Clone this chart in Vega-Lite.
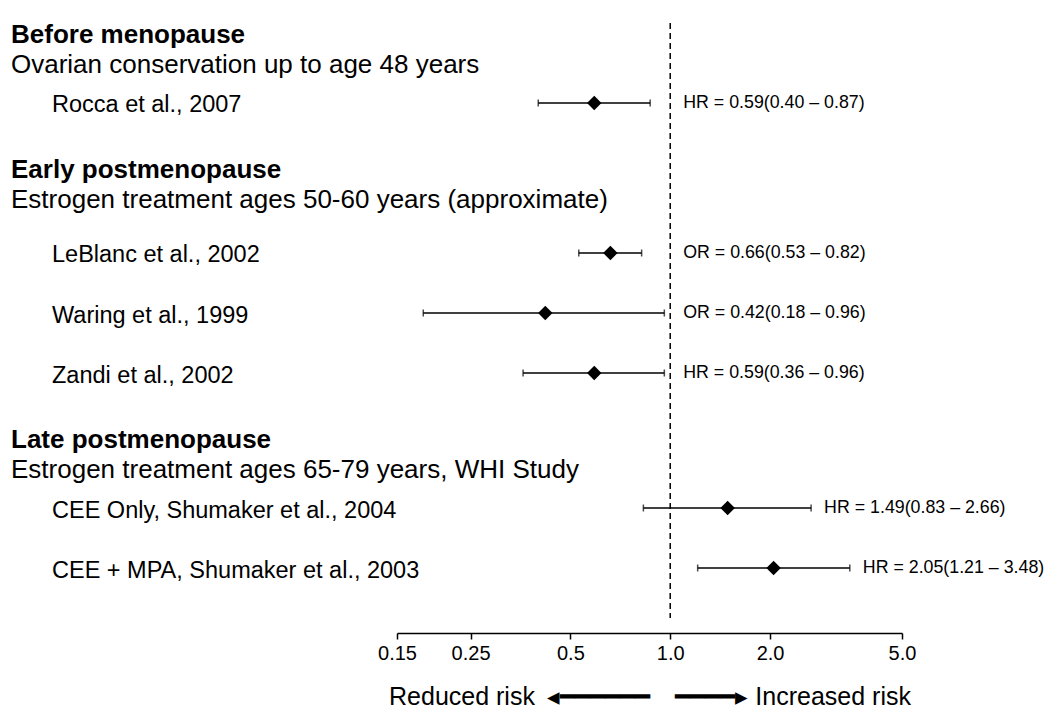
{
  "$schema": "https://vega.github.io/schema/vega-lite/v6.json",
  "width": 505,
  "height": 595,
  "autosize": {"type": "none"},
  "padding": {"left": 397, "top": 23, "right": 148, "bottom": 107},
  "background": "white",
  "config": {"view": {"stroke": null}, "font": "Liberation Sans"},
  "data": {
    "values": [
      {"label": "Before menopause", "role": "heading"},
      {"label": "Ovarian conservation up to age 48 years", "role": "subheading"},
      {"label": "Rocca et al., 2007", "role": "study", "measure": "HR", "est": 0.59, "lo": 0.40, "hi": 0.87},
      {"label": "Early postmenopause", "role": "heading"},
      {"label": "Estrogen treatment ages 50-60 years (approximate)", "role": "subheading"},
      {"label": "LeBlanc et al., 2002", "role": "study", "measure": "OR", "est": 0.66, "lo": 0.53, "hi": 0.82},
      {"label": "Waring et al., 1999", "role": "study", "measure": "OR", "est": 0.42, "lo": 0.18, "hi": 0.96},
      {"label": "Zandi et al., 2002", "role": "study", "measure": "HR", "est": 0.59, "lo": 0.36, "hi": 0.96},
      {"label": "Late postmenopause", "role": "heading"},
      {"label": "Estrogen treatment ages 65-79 years, WHI Study", "role": "subheading"},
      {"label": "CEE Only, Shumaker et al., 2004", "role": "study", "measure": "HR", "est": 1.49, "lo": 0.83, "hi": 2.66},
      {"label": "CEE + MPA, Shumaker et al., 2003", "role": "study", "measure": "HR", "est": 2.05, "lo": 1.21, "hi": 3.48}
    ]
  },
  "layer": [
    {
      "encoding": {
        "y": {
          "field": "label", "type": "nominal", "axis": null,
          "scale": {"type": "point", "padding": 0.3333, "domain": ["_a","Before menopause","_b","Ovarian conservation up to age 48 years","_c","Rocca et al., 2007","_d","_e","_f","_g","Early postmenopause","_h","Estrogen treatment ages 50-60 years (approximate)","_i","_j","LeBlanc et al., 2002","_k","_l","_m","Waring et al., 1999","_n","_o","_p","Zandi et al., 2002","_q","_r","_s","_t","Late postmenopause","_u","Estrogen treatment ages 65-79 years, WHI Study","_v","CEE Only, Shumaker et al., 2004","_w","_x","_y","CEE + MPA, Shumaker et al., 2003","_z","_z1","_z2"]}
        },
        "text": {"field": "label"}
      },
      "layer": [
        {
          "transform": [{"filter": "datum.role == 'heading'"}],
          "mark": {"type": "text", "align": "left", "baseline": "alphabetic", "fontSize": 26, "fontWeight": "bold", "color": "black"},
          "encoding": {"x": {"datum": "group", "type": "nominal", "axis": null, "scale": {"type": "point", "domain": ["group", "study"], "range": [-386, -345], "padding": 0}}}
        },
        {
          "transform": [{"filter": "datum.role == 'subheading'"}],
          "mark": {"type": "text", "align": "left", "baseline": "alphabetic", "fontSize": 26, "color": "black"},
          "encoding": {"x": {"datum": "group", "type": "nominal", "axis": null, "scale": {"type": "point", "domain": ["group", "study"], "range": [-386, -345], "padding": 0}}}
        },
        {
          "transform": [{"filter": "datum.role == 'study'"}],
          "mark": {"type": "text", "align": "left", "baseline": "middle", "dy": 2.5, "fontSize": 23.5, "color": "black"},
          "encoding": {"x": {"datum": "study", "type": "nominal", "axis": null, "scale": {"type": "point", "domain": ["group", "study"], "range": [-386, -345], "padding": 0}}}
        }
      ]
    },
    {
      "layer": [
        {
          "data": {"values": [{"ref": 1}]},
          "mark": {"type": "rule", "color": "black", "strokeWidth": 1.5, "strokeDash": [6, 4]},
          "encoding": {"x": {"field": "ref", "type": "quantitative", "scale": {"type": "log", "domain": [0.15, 5], "nice": false}}}
        },
        {
          "transform": [
            {"filter": "datum.role == 'study'"},
            {"calculate": "max(datum.hi, 1)", "as": "labelAt"},
            {"calculate": "datum.measure + ' = ' + format(datum.est, '.2f') + '(' + format(datum.lo, '.2f') + ' – ' + format(datum.hi, '.2f') + ')'", "as": "estText"}
          ],
          "encoding": {
            "y": {
              "field": "label", "type": "nominal", "axis": null,
              "scale": {"type": "point", "padding": 0.3333, "domain": ["_a","Before menopause","_b","Ovarian conservation up to age 48 years","_c","Rocca et al., 2007","_d","_e","_f","_g","Early postmenopause","_h","Estrogen treatment ages 50-60 years (approximate)","_i","_j","LeBlanc et al., 2002","_k","_l","_m","Waring et al., 1999","_n","_o","_p","Zandi et al., 2002","_q","_r","_s","_t","Late postmenopause","_u","Estrogen treatment ages 65-79 years, WHI Study","_v","CEE Only, Shumaker et al., 2004","_w","_x","_y","CEE + MPA, Shumaker et al., 2003","_z","_z1","_z2"]}
            }
          },
          "layer": [
            {
              "mark": {"type": "rule", "color": "black", "strokeWidth": 1.5},
              "encoding": {
                "x": {
                  "field": "lo", "type": "quantitative",
                  "scale": {"type": "log", "domain": [0.15, 5], "nice": false},
                  "axis": {
                    "orient": "bottom", "offset": 15, "grid": false,
                    "values": [0.15, 0.25, 0.5, 1, 2, 5],
                    "labelExpr": "datum.value < 1 ? '' + datum.value : format(datum.value, '.1f')",
                    "labelFlush": false, "labelOverlap": false,
                    "domainColor": "black", "domainWidth": 1.5,
                    "tickColor": "black", "tickWidth": 1.5, "tickSize": 6,
                    "labelColor": "black", "labelFont": "Liberation Sans", "labelFontSize": 20, "labelPadding": 4,
                    "title": "Reduced risk\u2002◂━━━━━━\u2003━━━━▸ Increased risk",
                    "titleFont": "Liberation Sans", "titleFontSize": 25, "titleFontWeight": "normal", "titleColor": "black", "titlePadding": 21
                  }
                },
                "x2": {"field": "hi"}
              }
            },
            {
              "mark": {"type": "tick", "color": "black", "size": 7, "thickness": 1.5},
              "encoding": {"x": {"field": "lo", "type": "quantitative"}}
            },
            {
              "mark": {"type": "tick", "color": "black", "size": 7, "thickness": 1.5},
              "encoding": {"x": {"field": "hi", "type": "quantitative"}}
            },
            {
              "mark": {"type": "point", "shape": "diamond", "filled": true, "size": 210, "color": "black", "opacity": 1},
              "encoding": {"x": {"field": "est", "type": "quantitative"}}
            },
            {
              "mark": {"type": "text", "align": "left", "baseline": "middle", "dx": 13, "fontSize": 17.8, "color": "black"},
              "encoding": {"x": {"field": "labelAt", "type": "quantitative"}, "text": {"field": "estText"}}
            }
          ]
        }
      ]
    }
  ],
  "resolve": {"scale": {"x": "independent"}}
}
